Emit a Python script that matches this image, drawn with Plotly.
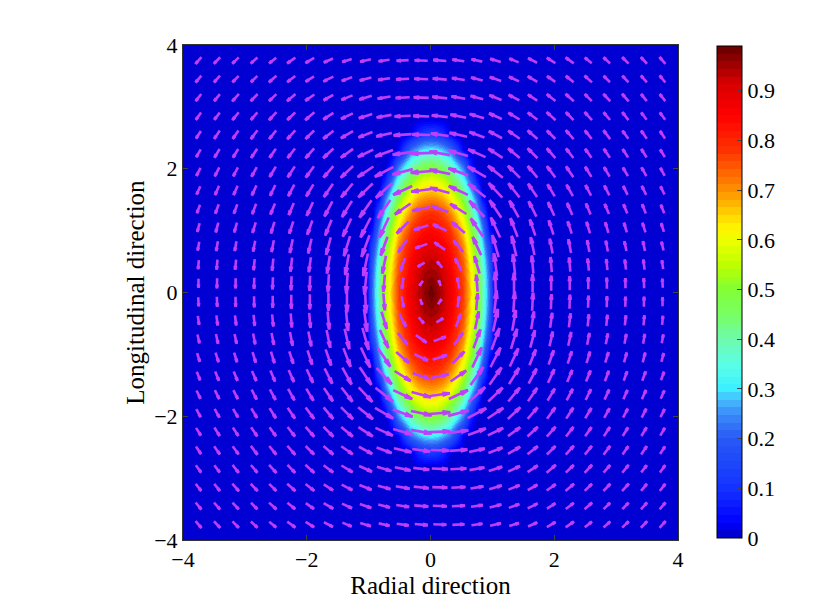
import math
import plotly.graph_objects as go

# --- heat field (x in radial, y in longitudinal)
field_x = [-4, -1.05, -0.945, -0.84, -0.735, -0.63, -0.525, -0.42, -0.315, -0.21, -0.105, 0,
           0.105, 0.21, 0.315, 0.42, 0.525, 0.63, 0.735, 0.84, 0.945, 1.05, 4]
field_y = [-4, -2.84, -2.58, -2.32, -2.06, -1.8, -1.55, -1.29, -1.03, -0.77, -0.52, -0.26, 0,
           0.26, 0.52, 0.77, 1.03, 1.29, 1.55, 1.8, 2.06, 2.32, 2.58, 2.84, 4]
field_z = [
 [0,0,0,0,0,0,0,0,0,0,0,0,0,0,0,0,0,0,0,0,0,0,0],
 [0,0,0,0,0,0,0,0,0,0,0,0,0,0,0,0,0,0,0,0,0,0,0],
 [0,0,0,0,0,0,0,0,.02,.08,.11,.12,.11,.08,.02,0,0,0,0,0,0,0,0],
 [0,0,0,0,0,0,.03,.13,.22,.27,.30,.31,.30,.27,.22,.13,.03,0,0,0,0,0,0],
 [0,0,0,0,0,.08,.21,.30,.38,.43,.46,.47,.46,.43,.38,.30,.21,.08,0,0,0,0,0],
 [0,0,0,0,.08,.23,.35,.44,.51,.56,.59,.60,.59,.56,.51,.44,.35,.23,.08,0,0,0,0],
 [0,0,0,.04,.22,.36,.47,.56,.62,.67,.69,.70,.69,.67,.62,.56,.47,.36,.22,.04,0,0,0],
 [0,0,0,.16,.32,.46,.57,.65,.71,.76,.78,.79,.78,.76,.71,.65,.57,.46,.32,.16,0,0,0],
 [0,0,.05,.25,.41,.54,.64,.72,.78,.81,.83,.84,.83,.81,.78,.72,.64,.54,.41,.25,.05,0,0],
 [0,0,.13,.31,.47,.59,.70,.78,.82,.86,.88,.89,.88,.86,.82,.78,.70,.59,.47,.31,.13,0,0],
 [0,0,.18,.36,.51,.63,.74,.80,.85,.89,.92,.93,.92,.89,.85,.80,.74,.63,.51,.36,.18,0,0],
 [0,0,.21,.39,.54,.66,.76,.82,.87,.92,.95,.96,.95,.92,.87,.82,.76,.66,.54,.39,.21,0,0],
 [0,0,.22,.40,.55,.67,.77,.83,.88,.93,.96,.99,.96,.93,.88,.83,.77,.67,.55,.40,.22,0,0],
 [0,0,.21,.39,.54,.66,.76,.82,.87,.92,.95,.96,.95,.92,.87,.82,.76,.66,.54,.39,.21,0,0],
 [0,0,.18,.36,.51,.63,.74,.80,.85,.89,.92,.93,.92,.89,.85,.80,.74,.63,.51,.36,.18,0,0],
 [0,0,.13,.31,.47,.59,.70,.78,.82,.86,.88,.89,.88,.86,.82,.78,.70,.59,.47,.31,.13,0,0],
 [0,0,.05,.25,.41,.54,.64,.72,.78,.81,.83,.84,.83,.81,.78,.72,.64,.54,.41,.25,.05,0,0],
 [0,0,0,.16,.32,.46,.57,.65,.71,.76,.78,.79,.78,.76,.71,.65,.57,.46,.32,.16,0,0,0],
 [0,0,0,.04,.22,.36,.47,.56,.62,.67,.69,.70,.69,.67,.62,.56,.47,.36,.22,.04,0,0,0],
 [0,0,0,0,.08,.23,.35,.44,.51,.56,.59,.60,.59,.56,.51,.44,.35,.23,.08,0,0,0,0],
 [0,0,0,0,0,.08,.21,.30,.38,.43,.46,.47,.46,.43,.38,.30,.21,.08,0,0,0,0,0],
 [0,0,0,0,0,0,.03,.13,.22,.27,.30,.31,.30,.27,.22,.13,.03,0,0,0,0,0,0],
 [0,0,0,0,0,0,0,0,.02,.08,.11,.12,.11,.08,.02,0,0,0,0,0,0,0,0],
 [0,0,0,0,0,0,0,0,0,0,0,0,0,0,0,0,0,0,0,0,0,0,0],
 [0,0,0,0,0,0,0,0,0,0,0,0,0,0,0,0,0,0,0,0,0,0,0],
]

# --- arrow grid
arrow_x = [-3.75,-3.45,-3.15,-2.85,-2.55,-2.25,-1.95,-1.65,-1.35,-1.05,-0.75,-0.45,-0.15,
           0.15,0.45,0.75,1.05,1.35,1.65,1.95,2.25,2.55,2.85,3.15,3.45,3.75]
arrow_y = [3.75,3.45,3.15,2.85,2.55,2.25,1.95,1.65,1.35,1.05,0.75,0.45,0.15,
           -0.15,-0.45,-0.75,-1.05,-1.35,-1.65,-1.95,-2.25,-2.55,-2.85,-3.15,-3.45,-3.75]

# arrow direction, degrees counter-clockwise from +x; one row per arrow_y
arrow_deg = [
 [228,226,224,222,219,215,210,204,198,193,188,183,178,175,172,168,163,158,153,148,144,140,137,135,133,131],
 [230,228,226,224,221,217,212,206,200,194,188,183,178,175,171,166,161,155,150,145,141,138,135,133,131,129],
 [232,230,228,226,224,220,215,209,202,196,189,183,178,174,170,165,159,153,147,142,138,135,133,131,129,128],
 [234,232,231,229,227,224,220,213,205,197,190,183,178,173,169,163,156,149,143,138,134,132,130,128,127,126],
 [237,236,235,233,231,228,224,218,210,201,192,184,178,172,167,160,152,145,139,135,131,129,127,126,125,124],
 [240,239,238,237,235,232,228,223,216,206,200,188,182,170,164,156,147,140,135,131,128,126,124,123,122,122],
 [243,243,242,241,239,237,234,229,223,214,208,195,185,168,160,150,141,135,130,127,124,122,121,120,119,119],
 [246,246,246,245,244,242,239,235,230,224,222,205,188,165,155,142,133,128,124,121,119,118,117,116,116,116],
 [250,250,250,249,248,247,245,242,238,235,235,215,193,160,148,133,124,119,117,115,114,113,113,112,112,112],
 [255,255,254,253,253,252,250,248,245,243,245,225,198,155,140,124,115,111,109,108,108,107,107,107,108,108],
 [260,260,260,259,259,258,257,255,253,250,250,235,200,145,130,115,106,103,102,101,101,101,101,102,102,103],
 [265,265,264,264,264,263,262,261,260,258,258,250,210,130,118,107,98,96,95,95,95,96,96,97,97,98],
 [270,269,269,269,268,268,268,267,266,264,265,262,235,110,100,95,92,90,90,90,90,90,91,91,92,93],
 [273,272,271,271,270,270,270,270,270,272,275,280,290,55,82,85,84,86,87,88,88,88,89,89,89,90],
 [278,277,277,276,276,275,275,275,276,278,287,298,310,30,70,78,78,80,81,82,83,84,84,84,85,85],
 [283,282,282,281,281,281,281,282,283,286,295,310,325,20,55,70,70,73,75,77,78,79,79,80,80,80],
 [288,288,287,287,287,288,288,289,291,295,304,320,335,18,45,65,63,65,68,70,72,73,73,74,75,75],
 [292,292,292,293,293,294,295,297,299,304,313,328,340,13,35,55,55,58,62,65,67,68,69,70,70,70],
 [296,296,296,297,298,299,301,304,308,313,322,335,345,8,25,42,44,50,55,59,62,64,65,66,66,66],
 [299,299,300,301,302,304,307,310,315,321,330,340,348,5,15,28,34,43,49,54,57,59,61,62,63,63],
 [302,302,303,304,306,308,311,315,320,327,336,344,350,2,8,20,26,36,43,48,52,55,57,58,59,60],
 [304,305,306,307,309,311,315,319,325,332,340,347,352,358,4,12,21,30,38,44,48,51,53,55,56,57],
 [306,307,308,310,312,314,318,323,329,336,343,349,353,358,3,10,17,25,33,40,44,47,49,51,52,54],
 [308,309,311,313,315,318,322,327,333,339,345,350,354,358,3,9,16,22,29,35,40,44,46,48,50,52],
 [309,311,313,315,318,321,325,330,335,341,346,351,355,358,3,8,14,20,26,32,37,41,44,46,48,50],
 [311,313,315,317,320,324,328,333,338,343,348,352,355,358,3,8,13,18,24,30,35,39,42,44,46,48],
]

# arrow length, in screen pixels; one row per arrow_y
arrow_len = [
 [9,9,9,9,9,10,10,10,10,11,11,12,13,13,12,11,11,10,10,10,10,9,9,9,9,9],
 [9,9,9,9,10,10,10,11,11,12,12,13,14,14,13,12,12,11,11,10,10,10,9,9,9,9],
 [9,9,10,10,10,11,11,11,12,13,13,14,15,15,14,13,13,12,11,11,11,10,10,10,9,9],
 [9,9,10,10,11,11,12,12,13,14,15,16,16,16,16,15,14,13,12,12,11,11,10,10,9,9],
 [9,10,10,11,11,12,12,13,14,15,16,18,18,18,18,16,15,14,13,12,12,11,11,10,10,9],
 [9,10,10,11,11,12,13,14,15,17,19,20,21,21,20,19,17,15,14,13,12,11,11,10,10,9],
 [9,10,10,11,12,13,14,15,17,19,21,21,21,21,21,21,19,17,15,14,13,12,11,10,10,9],
 [9,10,10,11,12,13,14,16,18,20,22,21,20,20,21,22,20,18,16,14,13,12,11,10,10,9],
 [9,10,10,11,12,13,15,17,19,21,22,19,18,18,19,22,21,19,17,15,13,12,11,10,10,9],
 [9,10,10,11,12,13,15,17,20,22,22,17,15,15,17,22,22,20,17,15,13,12,11,10,10,9],
 [9,10,10,11,12,14,15,18,21,23,20,15,13,13,15,20,23,21,18,15,14,12,11,10,10,9],
 [9,10,10,11,12,14,15,18,21,23,18,14,8,8,14,18,23,21,18,15,14,12,11,10,10,9],
 [9,10,10,11,12,14,15,18,21,23,17,11,6,6,11,17,23,21,18,15,14,12,11,10,10,9],
 [9,10,10,11,12,14,15,18,21,23,17,11,6,6,11,17,23,21,18,15,14,12,11,10,10,9],
 [9,10,10,11,12,14,15,18,21,23,18,14,8,8,14,18,23,21,18,15,14,12,11,10,10,9],
 [9,10,10,11,12,14,15,18,21,23,20,15,13,13,15,20,23,21,18,15,14,12,11,10,10,9],
 [9,10,10,11,12,13,15,17,20,22,22,17,15,15,17,22,22,20,17,15,13,12,11,10,10,9],
 [9,10,10,11,12,13,15,17,19,21,22,19,18,18,19,22,21,19,17,15,13,12,11,10,10,9],
 [9,10,10,11,12,13,14,16,18,20,22,21,20,20,21,22,20,18,16,14,13,12,11,10,10,9],
 [9,10,10,11,12,13,14,15,17,19,21,21,21,21,21,21,19,17,15,14,13,12,11,10,10,9],
 [9,10,10,11,11,12,13,14,15,17,19,20,21,21,20,19,17,15,14,13,12,11,11,10,10,9],
 [9,10,10,11,11,12,12,13,14,15,16,18,18,18,18,16,15,14,13,12,12,11,11,10,10,9],
 [9,9,10,10,11,11,12,12,13,14,15,16,16,16,16,15,14,13,12,12,11,11,10,10,9,9],
 [9,9,10,10,10,11,11,11,12,13,13,14,15,15,14,13,13,12,11,11,11,10,10,10,9,9],
 [9,9,9,9,10,10,10,11,11,12,12,13,14,14,13,12,12,11,11,10,10,10,9,9,9,9],
 [9,9,9,9,9,10,10,10,10,11,11,12,13,13,12,11,11,10,10,10,10,9,9,9,9,9],
]

axis_ticks = [-4, -2, 0, 2, 4]
bar_ticks = [0, .1, .2, .3, .4, .5, .6, .7, .8, .9]
bar_labels = ["0", "0.1", "0.2", "0.3", "0.4", "0.5", "0.6", "0.7", "0.8", "0.9"]
x_title = "Radial direction"
y_title = "Longitudinal direction"

# --- colour map (value, rgb)
stops = [
 (0.00,(0,0,195)),(0.03,(0,0,255)),(0.10,(20,50,255)),(0.20,(40,90,245)),(0.25,(60,140,250)),
 (0.28,(70,190,255)),(0.30,(60,240,255)),(0.35,(90,255,230)),(0.40,(110,250,170)),(0.45,(120,255,100)),
 (0.50,(130,255,50)),(0.55,(190,255,0)),(0.60,(240,255,0)),(0.63,(255,240,0)),(0.68,(255,170,0)),
 (0.72,(255,120,0)),(0.78,(255,50,0)),(0.85,(255,0,0)),(0.92,(210,0,0)),(0.99,(100,0,0)),
]
ZMAX = 0.99
BANDS = 64
def colour_at(v):
    for (a, ca), (b, cb) in zip(stops, stops[1:]):
        if v <= b:
            t = (v - a) / (b - a)
            return "rgb(%d,%d,%d)" % tuple(round(p + (q - p) * t) for p, q in zip(ca, cb))
    return "rgb(100,0,0)"
colorscale = []
for i in range(BANDS):
    c = colour_at(ZMAX * (i + 0.5) / BANDS)
    colorscale += [[i / BANDS, c], [(i + 1) / BANDS, c]]

# --- layout geometry (the page has an 8 px body margin)
W, H = 822, 600
L, R, T, B = 175, 670, 37, 532
BAR_L, BAR_T, BAR_B = 709, 38, 530
PX_PER_UNIT = (R - L) / 8.0
ARROW = "#BF3EFF"
FONT = "Liberation Serif"
BARB_FRACTION = 0.38
BARB_SPREAD = math.radians(11)

sx, sy = [], []
for j, y in enumerate(arrow_y):
    for i, x in enumerate(arrow_x):
        d = math.radians(arrow_deg[j][i])
        size = arrow_len[j][i] / PX_PER_UNIT
        x0, y0 = x - size / 2 * math.cos(d), y - size / 2 * math.sin(d)
        x1, y1 = x + size / 2 * math.cos(d), y + size / 2 * math.sin(d)
        barb = size * BARB_FRACTION
        bx0 = x1 - barb * math.cos(d + BARB_SPREAD)
        by0 = y1 - barb * math.sin(d + BARB_SPREAD)
        bx1 = x1 - barb * math.cos(d - BARB_SPREAD)
        by1 = y1 - barb * math.sin(d - BARB_SPREAD)
        sx += [x0, x1, None, bx0, x1, bx1, None]
        sy += [y0, y1, None, by0, y1, by1, None]

fig = go.Figure()
fig.add_trace(go.Heatmap(
    x=field_x, y=field_y, z=field_z, zmin=0, zmax=ZMAX, zsmooth="best",
    colorscale=colorscale, hoverinfo="skip",
    colorbar=dict(
        thickness=25, thicknessmode="pixels", len=(BAR_B - BAR_T) / (B - T), lenmode="fraction",
        x=(BAR_L - L) / (R - L), xanchor="left", xpad=0, y=(B - BAR_B) / (B - T), yanchor="bottom", ypad=0,
        tickvals=bar_ticks, ticktext=bar_labels,
        ticks="inside", ticklen=5, tickcolor="#444", tickwidth=1,
        outlinecolor="black", outlinewidth=1,
        tickfont=dict(family=FONT, size=22, color="black"),
    ),
))
fig.add_trace(go.Scatter(x=sx, y=sy, mode="lines", line=dict(color=ARROW, width=2.6),
                         hoverinfo="skip", showlegend=False))
axis = dict(range=[-4, 4], tickvals=axis_ticks, ticks="inside", ticklen=5, tickwidth=1, tickcolor="#444",
            showgrid=False, zeroline=False, showline=True, linecolor="#333", linewidth=1, mirror="ticks",
            tickfont=dict(family=FONT, size=22, color="black"))
fig.update_layout(
    width=W, height=H, autosize=False,
    margin=dict(l=L, r=W - R, t=T, b=H - B, pad=0),
    paper_bgcolor="white", plot_bgcolor="rgb(0,0,205)", showlegend=False,
    xaxis=dict(axis, title=dict(text=x_title, standoff=0, font=dict(family=FONT, size=25, color="black"))),
    yaxis=dict(axis, title=dict(text=y_title, standoff=2, font=dict(family=FONT, size=25, color="black"))),
)
fig.write_html("out.html", config=dict(displayModeBar=False))
